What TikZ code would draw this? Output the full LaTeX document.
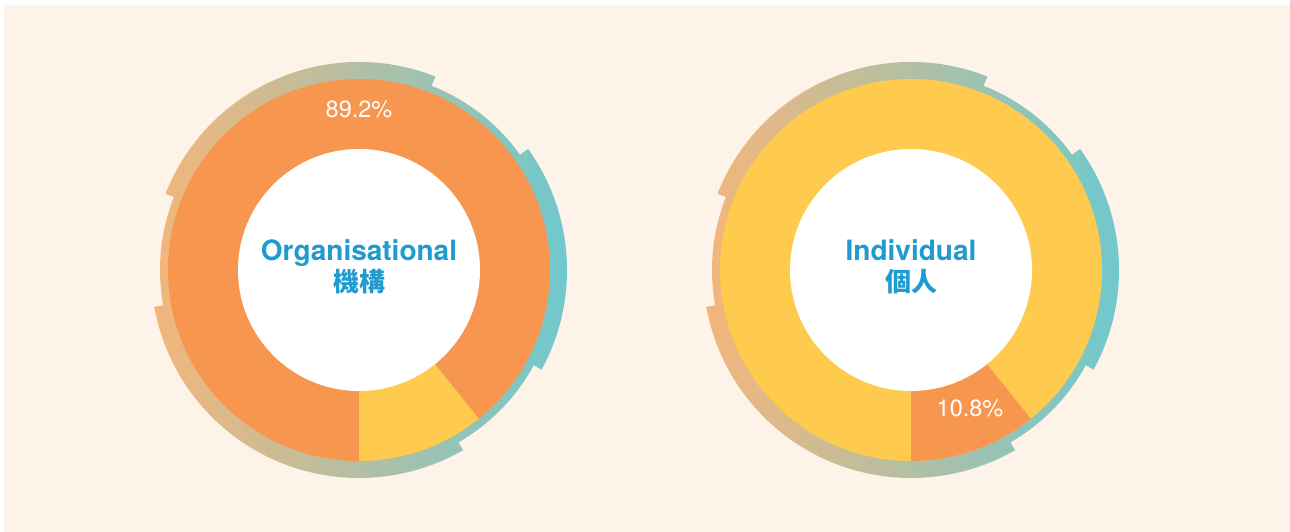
\documentclass[tikz,border=0pt]{standalone}
\usepackage{fontspec}
\setmainfont{TeX Gyre Heros}
\newfontfamily\cjk{Noto Sans CJK TC}
\definecolor{cream}{HTML}{FEF3E9}
\definecolor{pieorange}{HTML}{F7964F}
\definecolor{pieyellow}{HTML}{FECB4E}
\definecolor{ringL}{HTML}{F3B67B}
\definecolor{ringM}{HTML}{C6BE9D}
\definecolor{ringR}{HTML}{6CC9D0}
\definecolor{labelblue}{HTML}{1F9BD0}
\tikzset{
  ring/.style={left color=ringL, middle color=ringM, right color=ringR},
  title/.style={font=\bfseries\fontsize{28}{30}\selectfont, text=labelblue, inner sep=0pt},
  cjktitle/.style={font=\cjk\bfseries\fontsize{26}{28}\selectfont, text=labelblue, inner sep=0pt},
  pct/.style={font=\fontsize{23.5}{25}\selectfont, text=white, inner sep=0pt, anchor=base},
}
\newcommand{\ringpath}{%
  (-60:199) arc[start angle=-60, end angle=-28.6, radius=199]
  -- (-28.6:208) arc[start angle=-28.6, end angle=35.6, radius=208]
  -- (35.6:198) arc[start angle=35.6, end angle=68.5, radius=198]
  -- (68.5:208) arc[start angle=68.5, end angle=158.5, radius=208]
  -- (158.5:199) arc[start angle=158.5, end angle=190.2, radius=199]
  -- (190.2:208) arc[start angle=190.2, end angle=300, radius=208] -- cycle}
\begin{document}
\begin{tikzpicture}[x=1pt,y=1pt]
\useasboundingbox (0,0) rectangle (1290,532);
\fill[cream] (4,0) rectangle (1290,527);
% left donut
\begin{scope}[shift={(359,262)}]
  \shade[ring] \ringpath;
  \fill[pieorange] (0,0) circle[radius=191];
  \fill[pieyellow] (0,0) -- (-90:191) arc[start angle=-90, end angle=-51.12, radius=191] -- cycle;
  \fill[white] (0,0) circle[radius=121];
\end{scope}
% right donut
\begin{scope}[shift={(911,262)}]
  \shade[ring] \ringpath;
  \fill[pieyellow] (0,0) circle[radius=191];
  \fill[pieorange] (0,0) -- (-90:191) arc[start angle=-90, end angle=-51.12, radius=191] -- cycle;
  \fill[white] (0,0) circle[radius=121];
\end{scope}
\node[title, anchor=base] (orgEn) at (359,271) {Organisational};
\node[cjktitle] (orgZh) at (359,250) {機構};
\node[pct] (orgPct) at (359,414) {89.2\%};
\node[title, anchor=base] (indEn) at (911,271) {Individual};
\node[cjktitle] (indZh) at (911,250) {個人};
\node[pct] (indPct) at (970,115) {10.8\%};
\end{tikzpicture}
\end{document}
